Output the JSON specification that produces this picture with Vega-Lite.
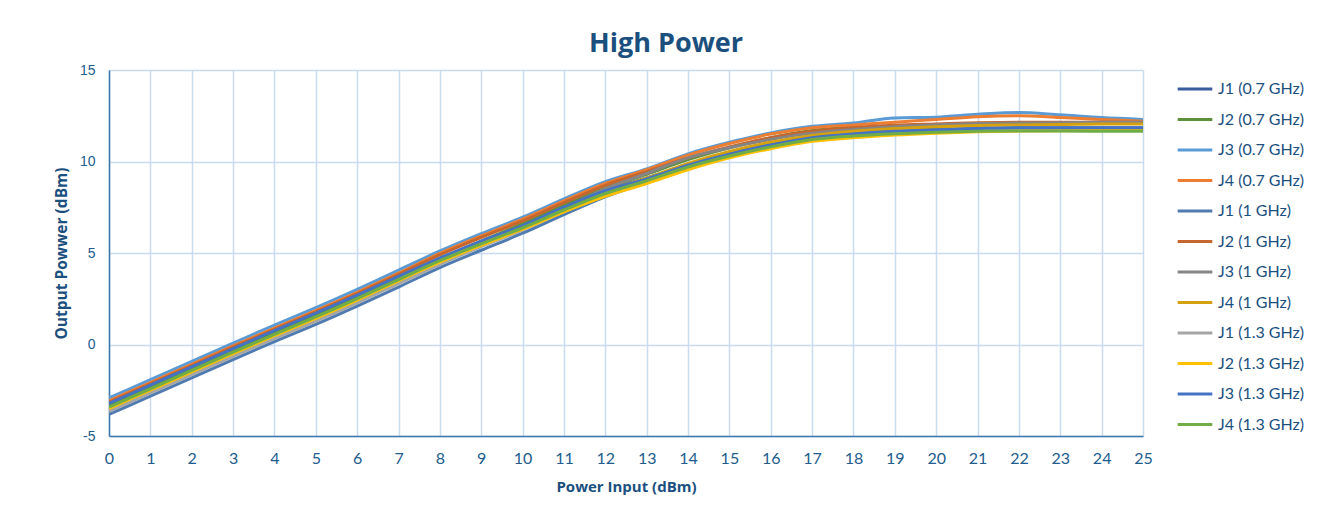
{
  "$schema": "https://vega.github.io/schema/vega-lite/v6.json",
  "autosize": {"type": "none"},
  "width": 1034,
  "height": 366,
  "padding": {"left": 109, "top": 70, "right": 180, "bottom": 77},
  "background": "white",
  "title": {
    "text": "High Power",
    "font": "Open Sans",
    "fontSize": 27,
    "fontWeight": "bold",
    "color": "#1B4F7E",
    "anchor": "middle",
    "dx": 40,
    "offset": 5
  },
  "datasets": {
    "names": [
      {"k": "J1_07", "series": "J1 (0.7 GHz)"},
      {"k": "J2_07", "series": "J2 (0.7 GHz)"},
      {"k": "J3_07", "series": "J3 (0.7 GHz)"},
      {"k": "J4_07", "series": "J4 (0.7 GHz)"},
      {"k": "J1_1", "series": "J1 (1 GHz)"},
      {"k": "J2_1", "series": "J2 (1 GHz)"},
      {"k": "J3_1", "series": "J3 (1 GHz)"},
      {"k": "J4_1", "series": "J4 (1 GHz)"},
      {"k": "J1_13", "series": "J1 (1.3 GHz)"},
      {"k": "J2_13", "series": "J2 (1.3 GHz)"},
      {"k": "J3_13", "series": "J3 (1.3 GHz)"},
      {"k": "J4_13", "series": "J4 (1.3 GHz)"}
    ]
  },
  "data": {
    "values": [
      {"x": 0, "J1_07": -3.3, "J2_07": -3.38, "J3_07": -2.92, "J4_07": -3.08, "J1_1": -3.82, "J2_1": -3.15, "J3_1": -3.58, "J4_1": -3.45, "J1_13": -3.65, "J2_13": -3.5, "J3_13": -3.22, "J4_13": -3.42},
      {"x": 1, "J1_07": -2.3, "J2_07": -2.38, "J3_07": -1.92, "J4_07": -2.08, "J1_1": -2.82, "J2_1": -2.15, "J3_1": -2.58, "J4_1": -2.45, "J1_13": -2.65, "J2_13": -2.5, "J3_13": -2.22, "J4_13": -2.42},
      {"x": 2, "J1_07": -1.3, "J2_07": -1.38, "J3_07": -0.92, "J4_07": -1.08, "J1_1": -1.82, "J2_1": -1.15, "J3_1": -1.58, "J4_1": -1.45, "J1_13": -1.65, "J2_13": -1.5, "J3_13": -1.22, "J4_13": -1.42},
      {"x": 3, "J1_07": -0.3, "J2_07": -0.38, "J3_07": 0.08, "J4_07": -0.08, "J1_1": -0.82, "J2_1": -0.15, "J3_1": -0.58, "J4_1": -0.45, "J1_13": -0.65, "J2_13": -0.5, "J3_13": -0.22, "J4_13": -0.42},
      {"x": 4, "J1_07": 0.68, "J2_07": 0.6, "J3_07": 1.06, "J4_07": 0.9, "J1_1": 0.16, "J2_1": 0.83, "J3_1": 0.4, "J4_1": 0.53, "J1_13": 0.33, "J2_13": 0.48, "J3_13": 0.76, "J4_13": 0.56},
      {"x": 5, "J1_07": 1.63, "J2_07": 1.55, "J3_07": 2.01, "J4_07": 1.85, "J1_1": 1.1, "J2_1": 1.78, "J3_1": 1.35, "J4_1": 1.48, "J1_13": 1.28, "J2_13": 1.43, "J3_13": 1.71, "J4_13": 1.51},
      {"x": 6, "J1_07": 2.63, "J2_07": 2.55, "J3_07": 3.01, "J4_07": 2.85, "J1_1": 2.1, "J2_1": 2.78, "J3_1": 2.35, "J4_1": 2.48, "J1_13": 2.28, "J2_13": 2.43, "J3_13": 2.7, "J4_13": 2.51},
      {"x": 7, "J1_07": 3.66, "J2_07": 3.6, "J3_07": 4.06, "J4_07": 3.9, "J1_1": 3.14, "J2_1": 3.83, "J3_1": 3.4, "J4_1": 3.53, "J1_13": 3.33, "J2_13": 3.48, "J3_13": 3.72, "J4_13": 3.55},
      {"x": 8, "J1_07": 4.7, "J2_07": 4.67, "J3_07": 5.11, "J4_07": 4.98, "J1_1": 4.2, "J2_1": 4.9, "J3_1": 4.45, "J4_1": 4.58, "J1_13": 4.38, "J2_13": 4.5, "J3_13": 4.72, "J4_13": 4.58},
      {"x": 9, "J1_07": 5.63, "J2_07": 5.65, "J3_07": 6.06, "J4_07": 5.93, "J1_1": 5.15, "J2_1": 5.85, "J3_1": 5.45, "J4_1": 5.53, "J1_13": 5.35, "J2_13": 5.42, "J3_13": 5.65, "J4_13": 5.5},
      {"x": 10, "J1_07": 6.52, "J2_07": 6.6, "J3_07": 6.96, "J4_07": 6.85, "J1_1": 6.08, "J2_1": 6.75, "J3_1": 6.4, "J4_1": 6.43, "J1_13": 6.25, "J2_13": 6.3, "J3_13": 6.5, "J4_13": 6.38},
      {"x": 11, "J1_07": 7.5, "J2_07": 7.62, "J3_07": 7.96, "J4_07": 7.85, "J1_1": 7.1, "J2_1": 7.75, "J3_1": 7.45, "J4_1": 7.4, "J1_13": 7.25, "J2_13": 7.25, "J3_13": 7.5, "J4_13": 7.35},
      {"x": 12, "J1_07": 8.42, "J2_07": 8.55, "J3_07": 8.9, "J4_07": 8.8, "J1_1": 8.07, "J2_1": 8.7, "J3_1": 8.5, "J4_1": 8.35, "J1_13": 8.2, "J2_13": 8.1, "J3_13": 8.4, "J4_13": 8.25},
      {"x": 13, "J1_07": 9.1, "J2_07": 9.3, "J3_07": 9.6, "J4_07": 9.55, "J1_1": 8.85, "J2_1": 9.45, "J3_1": 9.35, "J4_1": 9.1, "J1_13": 8.92, "J2_13": 8.8, "J3_13": 9.05, "J4_13": 8.95},
      {"x": 14, "J1_07": 9.85, "J2_07": 10.1, "J3_07": 10.42, "J4_07": 10.35, "J1_1": 9.65, "J2_1": 10.2, "J3_1": 10.2, "J4_1": 9.9, "J1_13": 9.7, "J2_13": 9.55, "J3_13": 9.8, "J4_13": 9.7},
      {"x": 15, "J1_07": 10.45, "J2_07": 10.75, "J3_07": 11.05, "J4_07": 10.98, "J1_1": 10.3, "J2_1": 10.8, "J3_1": 10.75, "J4_1": 10.55, "J1_13": 10.3, "J2_13": 10.2, "J3_13": 10.4, "J4_13": 10.3},
      {"x": 16, "J1_07": 10.95, "J2_07": 11.3, "J3_07": 11.56, "J4_07": 11.5, "J1_1": 10.85, "J2_1": 11.3, "J3_1": 11.2, "J4_1": 11.05, "J1_13": 10.8, "J2_13": 10.7, "J3_13": 10.9, "J4_13": 10.8},
      {"x": 17, "J1_07": 11.3, "J2_07": 11.7, "J3_07": 11.92, "J4_07": 11.85, "J1_1": 11.25, "J2_1": 11.65, "J3_1": 11.55, "J4_1": 11.42, "J1_13": 11.2, "J2_13": 11.1, "J3_13": 11.3, "J4_13": 11.2},
      {"x": 18, "J1_07": 11.5, "J2_07": 11.85, "J3_07": 12.1, "J4_07": 12.0, "J1_1": 11.5, "J2_1": 11.85, "J3_1": 11.75, "J4_1": 11.65, "J1_13": 11.42, "J2_13": 11.3, "J3_13": 11.5, "J4_13": 11.4},
      {"x": 19, "J1_07": 11.62, "J2_07": 11.85, "J3_07": 12.38, "J4_07": 12.15, "J1_1": 11.65, "J2_1": 11.98, "J3_1": 11.9, "J4_1": 11.8, "J1_13": 11.58, "J2_13": 11.45, "J3_13": 11.65, "J4_13": 11.52},
      {"x": 20, "J1_07": 11.7, "J2_07": 11.8, "J3_07": 12.42, "J4_07": 12.3, "J1_1": 11.75, "J2_1": 12.05, "J3_1": 12.0, "J4_1": 11.9, "J1_13": 11.66, "J2_13": 11.55, "J3_13": 11.72, "J4_13": 11.6},
      {"x": 21, "J1_07": 11.76, "J2_07": 11.75, "J3_07": 12.58, "J4_07": 12.45, "J1_1": 11.82, "J2_1": 12.12, "J3_1": 12.08, "J4_1": 11.97, "J1_13": 11.72, "J2_13": 11.62, "J3_13": 11.8, "J4_13": 11.65},
      {"x": 22, "J1_07": 11.8, "J2_07": 11.72, "J3_07": 12.68, "J4_07": 12.5, "J1_1": 11.85, "J2_1": 12.15, "J3_1": 12.1, "J4_1": 12.0, "J1_13": 11.75, "J2_13": 11.66, "J3_13": 11.85, "J4_13": 11.67},
      {"x": 23, "J1_07": 11.8, "J2_07": 11.7, "J3_07": 12.55, "J4_07": 12.4, "J1_1": 11.85, "J2_1": 12.15, "J3_1": 12.12, "J4_1": 12.02, "J1_13": 11.75, "J2_13": 11.68, "J3_13": 11.85, "J4_13": 11.66},
      {"x": 24, "J1_07": 11.8, "J2_07": 11.7, "J3_07": 12.4, "J4_07": 12.3, "J1_1": 11.85, "J2_1": 12.15, "J3_1": 12.15, "J4_1": 12.05, "J1_13": 11.75, "J2_13": 11.7, "J3_13": 11.85, "J4_13": 11.65},
      {"x": 25, "J1_07": 11.8, "J2_07": 11.7, "J3_07": 12.3, "J4_07": 12.2, "J1_1": 11.85, "J2_1": 12.15, "J3_1": 12.15, "J4_1": 12.05, "J1_13": 11.75, "J2_13": 11.7, "J3_13": 11.85, "J4_13": 11.65}
    ]
  },
  "transform": [
    {"fold": ["J1_07", "J2_07", "J3_07", "J4_07", "J1_1", "J2_1", "J3_1", "J4_1", "J1_13", "J2_13", "J3_13", "J4_13"], "as": ["k", "y"]},
    {"lookup": "k", "from": {"data": {"name": "names"}, "key": "k", "fields": ["series"]}}
  ],
  "mark": {"type": "line", "strokeWidth": 3, "interpolate": "monotone", "clip": true},
  "encoding": {
    "x": {
      "field": "x",
      "type": "quantitative",
      "scale": {"domain": [0, 25], "nice": false},
      "axis": {
        "title": "Power Input (dBm)",
        "values": [0,1,2,3,4,5,6,7,8,9,10,11,12,13,14,15,16,17,18,19,20,21,22,23,24,25],
        "labelFont": "Lato",
        "labelFontSize": 16,
        "labelColor": "#215C8C",
        "labelPadding": 14,
        "labelFlush": false,
        "ticks": false,
        "domainColor": "#3A78AE",
        "domainWidth": 1.5,
        "gridColor": "#C9DCEF",
        "gridWidth": 1.5,
        "titleFont": "Open Sans",
        "titleFontSize": 15,
        "titleFontWeight": "bold",
        "titleColor": "#1B4F7E",
        "titlePadding": 13
      }
    },
    "y": {
      "field": "y",
      "type": "quantitative",
      "scale": {"domain": [-5, 15], "nice": false},
      "axis": {
        "title": "Output Powwer (dBm)",
        "values": [-5, 0, 5, 10, 15],
        "labelExpr": "'' + datum.value",
        "labelFont": "Liberation Sans",
        "labelFontSize": 14,
        "labelColor": "#215C8C",
        "labelPadding": 14,
        "labelFlush": false,
        "ticks": false,
        "domainColor": "#3A78AE",
        "domainWidth": 1.5,
        "gridColor": "#C9DCEF",
        "gridWidth": 1.5,
        "titleFont": "Open Sans",
        "titleFontSize": 15.5,
        "titleFontWeight": "bold",
        "titleColor": "#1B4F7E",
        "titlePadding": 10
      }
    },
    "color": {
      "field": "series",
      "type": "nominal",
      "scale": {
        "domain": ["J1 (0.7 GHz)", "J2 (0.7 GHz)", "J3 (0.7 GHz)", "J4 (0.7 GHz)", "J1 (1 GHz)", "J2 (1 GHz)", "J3 (1 GHz)", "J4 (1 GHz)", "J1 (1.3 GHz)", "J2 (1.3 GHz)", "J3 (1.3 GHz)", "J4 (1.3 GHz)"],
        "range": ["#385D9C", "#5E903C", "#5B9BD5", "#ED7D31", "#4F7BB0", "#C6662F", "#858585", "#D6A10E", "#A5A5A5", "#FFC000", "#4472C4", "#70AD47"]
      },
      "legend": {
        "title": null,
        "orient": "right",
        "offset": 33,
        "padding": 0,
        "symbolType": "stroke",
        "symbolSize": 1200,
        "symbolStrokeWidth": 3,
        "rowPadding": 3.5,
        "labelFont": "Lato",
        "labelFontSize": 16,
        "labelColor": "#1B4F7E",
        "labelOffset": 4,
        "labelLimit": 200
      }
    }
  },
  "config": {
    "view": {"stroke": null}
  }
}
